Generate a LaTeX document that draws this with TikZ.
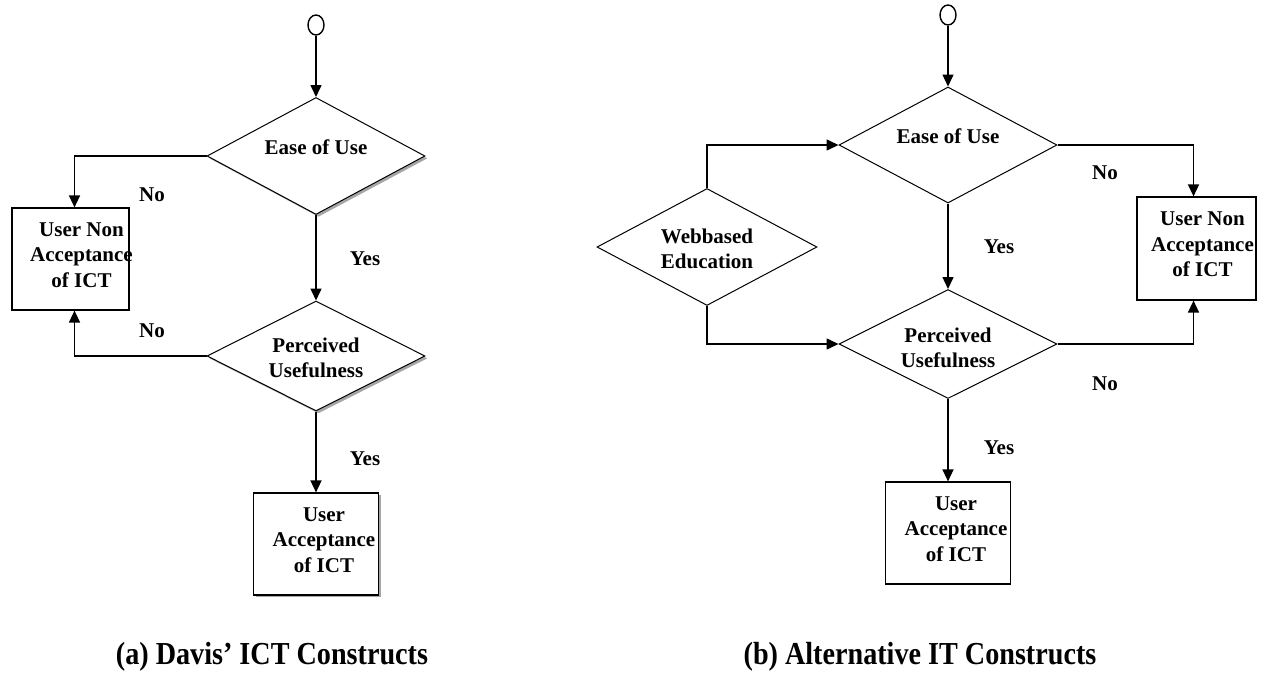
\documentclass[tikz,border=0pt]{standalone}
\usepackage{fontspec}
\setmainfont{Liberation Serif}
\newfontfamily\capfont[FakeStretch=0.88]{Liberation Serif}
\usetikzlibrary{shapes.geometric,arrows.meta,shadows}

\tikzset{
    decision/.style={diamond, draw, line width=0.5pt, fill=white, inner sep=0pt, minimum width=109pt},
    shade/.style={drop shadow={shadow xshift=1.2pt, shadow yshift=-1.2pt, fill=gray!70, opacity=1}},
    outcome/.style={rectangle, draw, line width=0.6pt, fill=white, inner sep=0pt},
    txt/.style={font=\fontsize{10.5}{12.8}\selectfont\bfseries, align=center, inner sep=0pt},
    start/.style={ellipse, draw, line width=0.7pt, minimum width=8pt, minimum height=10pt, inner sep=0pt},
    flow/.style={line width=0.75pt, -{Triangle[width=5.5pt,length=6pt]}},
    caption/.style={font=\fontsize{16}{18}\capfont\bfseries}
}

\begin{document}
\begin{tikzpicture}[x=0.5pt, y=-0.5pt]
    \useasboundingbox (0,0) rectangle (1261,696);

    % (a) Davis
    \node[start] (s1) at (316,25) {};
    \node[decision, shade, minimum height=58.5pt, label={[txt, yshift=4.5pt]center:Ease of Use}] (eou1) at (316,156) {};
    \node[outcome, minimum width=58.5pt, minimum height=51pt, label={[txt, xshift=5.5pt, yshift=2pt]center:{User Non\\Acceptance\\of ICT}}] (nacc1) at (70.5,259) {};
    \node[decision, shade, minimum height=55pt, label={[txt, yshift=-1pt]center:{Perceived\\Usefulness}}] (pu1) at (316,356) {};
    \node[outcome, shade, minimum width=62.5pt, minimum height=51pt, label={[txt, xshift=4pt, yshift=2pt]center:{User\\Acceptance\\of ICT}}] (acc1) at (316,544) {};

    \draw[flow] (s1) -- (eou1);
    \draw[flow] (eou1) -- (pu1);
    \draw[flow] (pu1) -- (acc1);
    \draw[flow] (eou1.west) -| ([xshift=2pt]nacc1.north);
    \draw[flow] (pu1.west) -| ([xshift=2pt]nacc1.south);

    \node[txt] (no1) at (152,195) {No};
    \node[txt] (yes1) at (365,259) {Yes};
    \node[txt] (no2) at (152,331) {No};
    \node[txt] (yes2) at (365,459) {Yes};

    % (b) Alternative
    \node[start] (s2) at (948,15) {};
    \node[decision, minimum height=58pt, label={[txt, yshift=4.5pt]center:Ease of Use}] (eou2) at (948,145) {};
    \node[decision, minimum width=110pt, minimum height=58.5pt, label={[txt, yshift=-1pt]center:{Webbased\\Education}}] (web) at (707,247) {};
    \node[outcome, minimum width=59.5pt, minimum height=51.5pt, label={[txt, xshift=3pt, yshift=2pt]center:{User Non\\Acceptance\\of ICT}}] (nacc2) at (1196.5,248.5) {};
    \node[decision, minimum height=54.5pt, label={[txt, yshift=-2pt]center:{Perceived\\Usefulness}}] (pu2) at (948,344) {};
    \node[outcome, minimum width=62.5pt, minimum height=51pt, label={[txt, xshift=4pt, yshift=2pt]center:{User\\Acceptance\\of ICT}}] (acc2) at (948,533) {};

    \draw[flow] (s2) -- (eou2);
    \draw[flow] (eou2) -- (pu2);
    \draw[flow] (pu2) -- (acc2);
    \draw[flow] (web.north) |- (eou2.west);
    \draw[flow] (web.south) |- (pu2.west);
    \draw[flow] (eou2.east) -| ([xshift=-1.5pt]nacc2.north);
    \draw[flow] (pu2.east) -| ([xshift=-1.5pt]nacc2.south);

    \node[txt] (no3) at (1105,173) {No};
    \node[txt] (yes3) at (999,247) {Yes};
    \node[txt] (no4) at (1105,384) {No};
    \node[txt] (yes4) at (999,448) {Yes};

    \node[caption] (capa) at (272,657) {(a) Davis’ ICT Constructs};
    \node[caption] (capb) at (920,657) {(b) Alternative IT Constructs};
\end{tikzpicture}
\end{document}
